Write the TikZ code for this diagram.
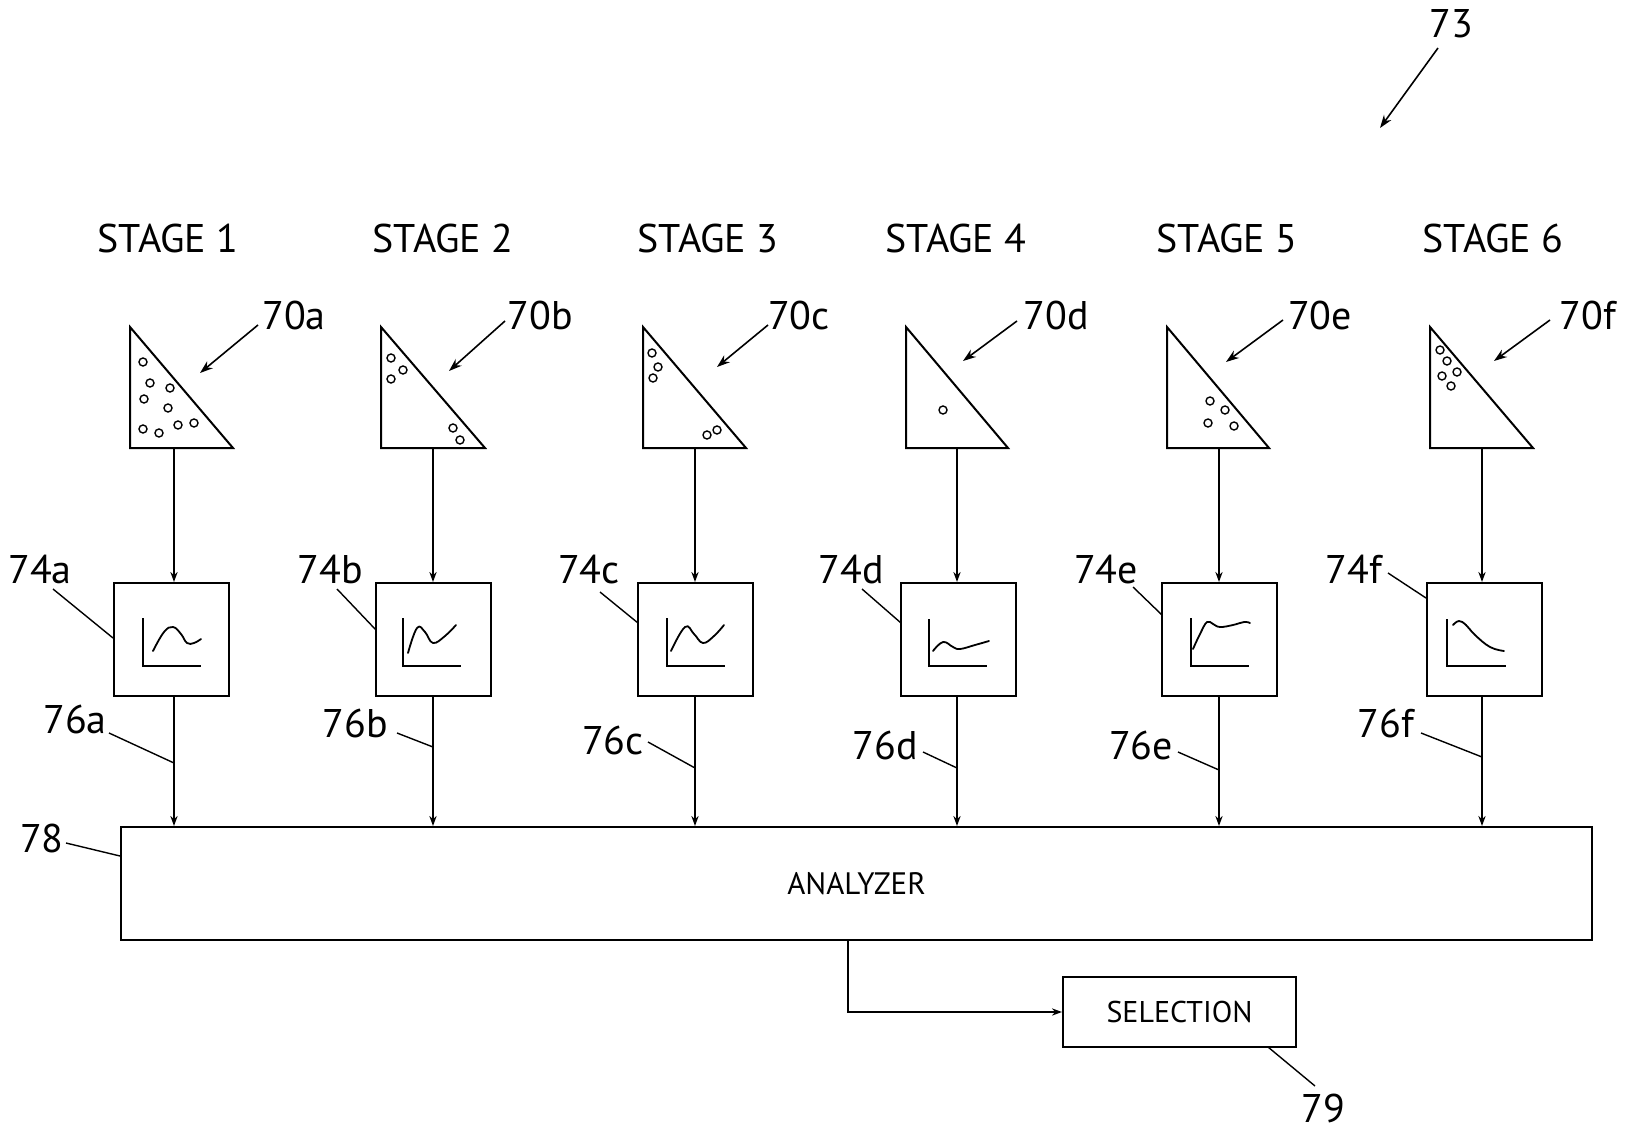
\documentclass[tikz,border=0pt]{standalone}
\usepackage{fontspec}
\setmainfont{PT Sans}
\usetikzlibrary{arrows.meta}
\begin{document}
\begin{tikzpicture}[x=0.5pt,y=-0.5pt,
  arr/.style={line width=0.9pt,-{Stealth[length=5pt,width=3.6pt]}},
  lead/.style={line width=0.7pt},
  leadarr/.style={line width=0.8pt,-{Stealth[length=6.5pt,width=4.5pt]}},
  box/.style={draw,line width=1pt,minimum width=57.5pt,minimum height=56.5pt,inner sep=0pt},
  big/.style={font=\fontsize{20}{24}\selectfont,inner sep=0pt,text height=14pt,text depth=0pt},
  tri/.style={line width=1pt,line join=miter},
  dot/.style={line width=0.7pt},
  curve/.style={line width=0.9pt,line join=round,line cap=round},
  axes/.style={line width=0.9pt},
]
\useasboundingbox (0,0) rectangle (1627,1134);

% ---------- stage labels ----------
\node[big] (s1) at (168,239) {STAGE 1};
\node[big] (s2) at (443,239) {STAGE 2};
\node[big] (s3) at (708,239) {STAGE 3};
\node[big] (s4) at (956,239) {STAGE 4};
\node[big] (s5) at (1227,239) {STAGE 5};
\node[big] (s6) at (1493,239) {STAGE 6};

% ---------- reference 73 ----------
\node[big] (l73) at (1451,24) {73};
\coordinate (p73a) at (1438,48);
\coordinate (p73b) at (1380,128);
\draw[leadarr] (p73a) -- (p73b);

% ---------- triangles ----------
\draw[tri] (130,327) -- (130,448) -- (233,448) -- cycle;
\draw[tri] (381,327) -- (381,448) -- (485,448) -- cycle;
\draw[tri] (643,327) -- (643,448) -- (746,448) -- cycle;
\draw[tri] (906,327) -- (906,448) -- (1008,448) -- cycle;
\draw[tri] (1167,327) -- (1167,448) -- (1269,448) -- cycle;
\draw[tri] (1430,327) -- (1430,448) -- (1533,448) -- cycle;
\coordinate (ta) at (174,448);
\coordinate (tb) at (433,448);
\coordinate (tc) at (695,448);
\coordinate (td) at (957,448);
\coordinate (te) at (1219,448);
\coordinate (tf) at (1482,448);

% dots
\foreach \p in {(143,362),(150,383),(170,388),(144,399),(168,408),(143,429),(159,433),(178,425),(194,423)}
  \draw[dot] \p circle[radius=2pt];
\foreach \p in {(391,358),(403,370),(391,379),(453,428),(460,440)}
  \draw[dot] \p circle[radius=2pt];
\foreach \p in {(652,353),(658,367),(653,378),(707,435),(717,430)}
  \draw[dot] \p circle[radius=2pt];
\foreach \p in {(943,410)}
  \draw[dot] \p circle[radius=2pt];
\foreach \p in {(1210,401),(1225,410),(1208,423),(1234,426)}
  \draw[dot] \p circle[radius=2pt];
\foreach \p in {(1440,350),(1447,361),(1457,372),(1442,376),(1451,386)}
  \draw[dot] \p circle[radius=2pt];

% 70 labels
\node[big] (l70a) at (294,315) {70a};
\node[big] (l70b) at (540,315) {70b};
\node[big] (l70c) at (799,315) {70c};
\node[big] (l70d) at (1056,315) {70d};
\node[big] (l70e) at (1320,315) {70e};
\node[big] (l70f) at (1588,315) {70f};
\draw[leadarr] (258,325) -- (200,373);
\draw[leadarr] (505,321) -- (449,371);
\draw[leadarr] (768,325) -- (717,367);
\draw[leadarr] (1017,321) -- (963,361);
\draw[leadarr] (1283,320) -- (1226,362);
\draw[leadarr] (1550,320) -- (1494,361);

% ---------- boxes ----------
\node[box] (ba) at (171,639.5) {};
\node[box] (bb) at (433,639.5) {};
\node[box] (bc) at (695.5,639.5) {};
\node[box] (bd) at (958.5,639.5) {};
\node[box] (be) at (1219,639.5) {};
\node[box] (bf) at (1484,639.5) {};

% graphs
\draw[axes] (143,618) -- (143,666) -- (201,666);
\draw[curve] plot[smooth,tension=0.7] coordinates {(153,651) (164,632) (173,627) (181,634) (187,643) (194,643) (201,639)};
\draw[axes] (403,618) -- (403,666) -- (461,666);
\draw[curve] plot[smooth,tension=0.7] coordinates {(408,653) (417,628) (425,632) (433,643) (445,636) (456,625)};
\draw[axes] (667,618) -- (667,666) -- (725,666);
\draw[curve] plot[smooth,tension=0.7] coordinates {(671,651) (685,627) (694,634) (703,643) (714,636) (724,625)};
\draw[axes] (929,619) -- (929,666) -- (987,666);
\draw[curve] plot[smooth,tension=0.7] coordinates {(933,651) (943,642) (953,647) (960,649) (975,645) (989,641)};
\draw[axes] (1191,618) -- (1191,666) -- (1249,666);
\draw[curve] plot[smooth,tension=0.7] coordinates {(1193,649) (1200,634) (1207,622) (1213,624) (1220,627) (1233,625) (1244,622) (1250,623)};
\draw[axes] (1447,619) -- (1447,666) -- (1506,666);
\draw[curve] plot[smooth,tension=0.7] coordinates {(1453,625) (1459,621) (1466,625) (1475,635) (1490,647) (1504,651)};

% 74 labels
\node[big] (l74a) at (40,569) {74a};
\node[big] (l74b) at (330,569) {74b};
\node[big] (l74c) at (589,569) {74c};
\node[big] (l74d) at (851,569) {74d};
\node[big] (l74e) at (1106,569) {74e};
\node[big] (l74f) at (1354,569) {74f};
\draw[lead] (53,589) -- (113,638);
\draw[lead] (337,589) -- (376,630);
\draw[lead] (600,592) -- (638,623);
\draw[lead] (862,589) -- (901,623);
\draw[lead] (1133,587) -- (1162,615);
\draw[lead] (1388,573) -- (1426,598);

% ---------- analyzer & selection ----------
\node[draw,line width=1pt,minimum width=735.5pt,minimum height=56.5pt,inner sep=0pt,
      font=\fontsize{15.5}{18}\selectfont] (an) at (856.5,883.5) {ANALYZER};
\node[draw,line width=1pt,minimum width=116.5pt,minimum height=35pt,inner sep=0pt,
      font=\fontsize{15}{18}\selectfont] (sel) at (1179.5,1012) {SELECTION};

% arrows triangle -> box -> analyzer
\foreach \t/\b in {ta/ba,tb/bb,tc/bc,td/bd,te/be,tf/bf}{
  \draw[arr] (\t) -- (\t |- \b.north);
  \draw[arr] (\t |- \b.south) -- (\t |- an.north);
}

% 76 labels
\node[big] (l76a) at (75,719) {76a};
\node[big] (l76b) at (355,723) {76b};
\node[big] (l76c) at (613,740) {76c};
\node[big] (l76d) at (885,745) {76d};
\node[big] (l76e) at (1141,745) {76e};
\node[big] (l76f) at (1386,723) {76f};
\draw[lead] (109,733) -- (174,763);
\draw[lead] (397,733) -- (433,747);
\draw[lead] (648,742) -- (695,768);
\draw[lead] (923,752) -- (957,768);
\draw[lead] (1178,752) -- (1219,770);
\draw[lead] (1421,733) -- (1482,757);

% 78
\node[big] (l78) at (42,838) {78};
\draw[lead] (66,843) -- (an.west |- 0,856);

% analyzer -> selection
\coordinate (k) at (848,940);
\draw[arr] (k) |- (sel.west);

% 79
\node[big] (l79) at (1323,1108) {79};
\draw[lead] (1268,1047) -- (1315,1086);
\end{tikzpicture}
\end{document}
